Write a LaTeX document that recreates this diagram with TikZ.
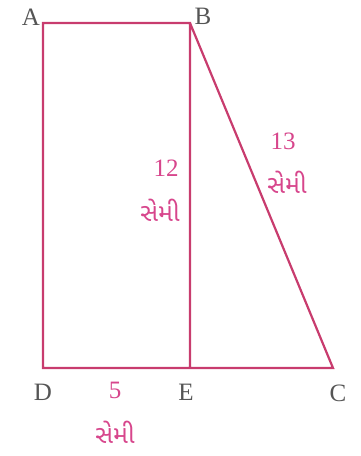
\documentclass[tikz,border=0pt]{standalone}
\usepackage{fontspec}
\setmainfont{Liberation Serif}
\newfontfamily\gujfont[Script=Gujarati]{Noto Sans Gujarati UI}
\definecolor{edgepink}{RGB}{200,60,110}
\definecolor{labpink}{RGB}{215,70,140}
\definecolor{letgray}{RGB}{85,85,85}
\tikzset{
  edge/.style={draw=edgepink, line width=2.2pt},
  vlabel/.style={text=letgray, font=\fontsize{25}{25}\selectfont, inner sep=0pt},
  numlabel/.style={text=labpink, font=\fontsize{25}{25}\selectfont, inner sep=0pt},
  gujlabel/.style={text=labpink, font=\gujfont\fontsize{25}{25}\selectfont, inner sep=0pt}
}
\begin{document}
\begin{tikzpicture}[x=1pt,y=-1pt]
\useasboundingbox (0,0) rectangle (361,456);
\coordinate (A) at (43,23);
\coordinate (B) at (190,23);
\coordinate (D) at (43,368);
\coordinate (E) at (190,368);
\coordinate (C) at (333,368);
\draw[edge, line join=miter] (E) -- (B) -- (A) -- (D) -- (C) -- (B);
\node[vlabel] (lA) at (31,17) {A};
\node[vlabel] (lB) at (203,16) {B};
\node[vlabel] (lD) at (43,392) {D};
\node[vlabel] (lE) at (186,392) {E};
\node[vlabel] (lC) at (338,393) {C};
\node[numlabel] (n5) at (115,390) {5};
\node[gujlabel] (g5) at (115,432) {સેમી};
\node[numlabel] (n12) at (166,168) {12};
\node[gujlabel] (g12) at (160,210) {સેમી};
\node[numlabel] (n13) at (283,141) {13};
\node[gujlabel] (g13) at (287,182) {સેમી};
\end{tikzpicture}
\end{document}
